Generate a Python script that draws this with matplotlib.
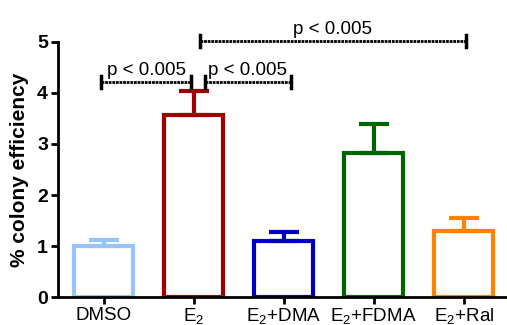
import matplotlib
matplotlib.use("Agg")
import matplotlib.pyplot as plt

plt.rcParams['font.family'] = ['Liberation Sans', 'DejaVu Sans']
plt.rcParams['mathtext.fontset'] = 'custom'
plt.rcParams['mathtext.rm'] = 'Liberation Sans'

# Data
groups = ["DMSO", "E$_2$", "E$_2$+DMA", "E$_2$+FDMA", "E$_2$+Ral"]
means = [1.0, 3.57, 1.10, 2.82, 1.29]
errors = [0.12, 0.47, 0.17, 0.57, 0.26]
colors = ["#99c4fa", "#a00000", "#0000c0", "#006400", "#ff8200"]

# significance brackets: (left, right, height, label)
sig_pairs = [(-0.03, 0.97, 4.22, "p < 0.005"),
             (1.12, 2.08, 4.22, "p < 0.005"),
             (1.07, 4.02, 5.02, "p < 0.005")]

fig = plt.figure(figsize=(5.07, 3.25), dpi=100)
ax = fig.add_axes([0.114, 0.086, 0.886, 0.785])

x = list(range(len(groups)))
for i in x:
    ax.bar(i, means[i], width=0.66, facecolor="none", edgecolor=colors[i],
           linewidth=3, zorder=2)
    ax.errorbar(i, means[i], yerr=[[0], [errors[i]]], fmt="none",
                ecolor=colors[i], elinewidth=3, capsize=11, capthick=3, zorder=2)

for x0, x1, h, lab in sig_pairs:
    ax.plot([x0, x1], [h, h], color="black", lw=2, linestyle=(0, (1, 0.3)),
            clip_on=False)
    ax.plot([x0, x0], [h - 0.12, h + 0.12], color="black", lw=2.5, clip_on=False)
    ax.plot([x1, x1], [h - 0.12, h + 0.12], color="black", lw=2.5, clip_on=False)
    ax.text((x0 + x1) / 2, h + 0.05, lab, ha="center", va="bottom",
            fontsize=13.5, clip_on=False)

ax.set_xlim(-0.51, 4.48)
ax.set_ylim(0, 5)
ax.set_xticks(x)
ax.set_xticklabels(groups, fontsize=13.5)
ax.set_yticks(range(6))
ax.set_yticklabels([str(v) for v in range(6)], fontsize=14, fontweight="bold")
ax.set_ylabel("% colony efficiency", fontsize=15, fontweight="bold", labelpad=6)

for s in ["top", "right"]:
    ax.spines[s].set_visible(False)
for s in ["left", "bottom"]:
    ax.spines[s].set_linewidth(2)
ax.tick_params(axis="both", width=2, length=5, direction="out", pad=2)

fig.savefig("out.png", dpi=100)
